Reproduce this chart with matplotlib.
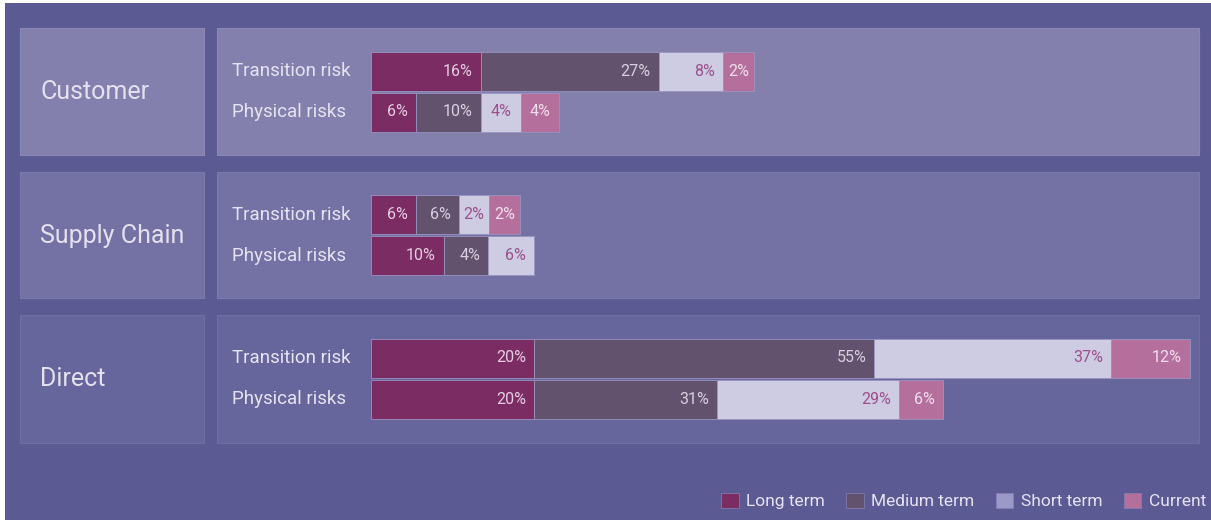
import numpy as np
import matplotlib
matplotlib.use('Agg')
import matplotlib.pyplot as plt
from matplotlib.patches import Rectangle, Patch

plt.rcParams['font.family'] = ['Roboto', 'DejaVu Sans']

# data
groups = ['Customer', 'Supply Chain', 'Direct']
risks = ['Transition risk', 'Physical risks']
terms = ['Long term', 'Medium term', 'Short term', 'Current']

# shown percentages (label text) per group, per risk row
cust_pct = [[16, 27, 8, 2], [6, 10, 4, 4]]
supp_pct = [[6, 6, 2, 2], [10, 4, 6]]
dire_pct = [[20, 55, 37, 12], [20, 31, 29, 6]]

# drawn bar lengths (the bars are not to the label scale)
cust_len = [[13.4, 21.7, 7.8, 3.8], [5.5, 7.9, 4.9, 4.6]]
supp_len = [[5.5, 5.2, 3.7, 3.8], [8.9, 5.4, 5.6]]
dire_len = [[19.9, 41.5, 28.9, 9.6], [19.9, 22.3, 22.2, 5.4]]

pcts = [cust_pct, supp_pct, dire_pct]
lens = [cust_len, supp_len, dire_len]

# styles
bg = '#5b5a93'
panel_cols = ['#8380ae', '#7471a5', '#67669c']
edge_cols = ['#8b88b4', '#7c79ab', '#6f6ea3']
bar_cols = ['#7b2d63', '#62526e', '#cdcce3', '#b56f9c']
legend_cols = ['#7b2d63', '#62526e', '#9a99c8', '#b56f9c']
txt_cols = ['#e6cde2', '#d9cfe0', '#9d4f8c', '#f1dfee']

W, H = 1211, 520
fig = plt.figure(figsize=(W / 100, H / 100), dpi=100, facecolor=bg)


def box(x0, y0, x1, y1):
    return [x0 / W, 1 - y1 / H, (x1 - x0) / W, (y1 - y0) / H]


def frect(x0, y0, x1, y1, **kw):
    b = box(x0, y0, x1, y1)
    fig.patches.append(Rectangle((b[0], b[1]), b[2], b[3], zorder=-1,
                                 transform=fig.transFigure, **kw))


# white edges of the screenshot
frect(0, 0, 5, H, facecolor='white', edgecolor='none')
frect(0, 0, W, 3, facecolor='white', edgecolor='none')

tops = [28, 172, 315]
bots = [155, 298, 443]
px2pt = 0.72
unit_px = 8.2

for i, g in enumerate(groups):
    t, b = tops[i], bots[i]
    frect(20, t, 204, b, facecolor=panel_cols[i], edgecolor=edge_cols[i], lw=0.8)
    frect(217, t, 1199, b, facecolor=panel_cols[i], edgecolor=edge_cols[i], lw=0.8)
    fig.text(40 / W, 1 - ((t + b) / 2 + 0.5) / H, g, fontsize=18,
             color='#e4e0ee', va='center', ha='left')

    ax = fig.add_axes(box(371, t, 1199, b))
    ax.set_xlim(0, 828 / unit_px)
    ax.set_ylim(b - t, 0)
    ax.axis('off')

    ycs = [43, 84]
    for r, risk in enumerate(risks):
        vals = lens[i][r]
        labs = pcts[i][r]
        left = np.concatenate([[0], np.cumsum(vals)[:-1]])
        ax.barh(ycs[r], vals, left=left, height=39,
                color=bar_cols[:len(vals)], edgecolor='#9a93c0', linewidth=0.6)
        for k in range(len(vals)):
            s = f'{labs[k]}%'
            if vals[k] * unit_px < 42:
                ax.text(left[k] + vals[k] / 2, ycs[r], s, ha='center', va='center',
                        fontsize=11.5, color=txt_cols[k])
            else:
                ax.annotate(s, (left[k] + vals[k], ycs[r]), xytext=(-8 * px2pt, 0),
                            textcoords='offset points', ha='right', va='center',
                            fontsize=11.5, color=txt_cols[k])
        ax.annotate(risk, (0, ycs[r]), xytext=(-(371 - 232) * px2pt, 0),
                    textcoords='offset points', ha='left', va='center',
                    fontsize=13.5, color='#e6e3f1')

handles = [Patch(facecolor=c, edgecolor='#8a80b4', lw=0.5) for c in legend_cols]
fig.legend(handles, terms, loc='center right', bbox_to_anchor=(1206 / W, 1 - 501 / H),
           ncol=4, frameon=False, fontsize=12.5, handlelength=1.0, handleheight=1.0,
           handletextpad=0.45, columnspacing=1.22, borderpad=0, borderaxespad=0,
           labelcolor='#e6e2f2')

fig.savefig('out.png', dpi=100, facecolor=bg)
